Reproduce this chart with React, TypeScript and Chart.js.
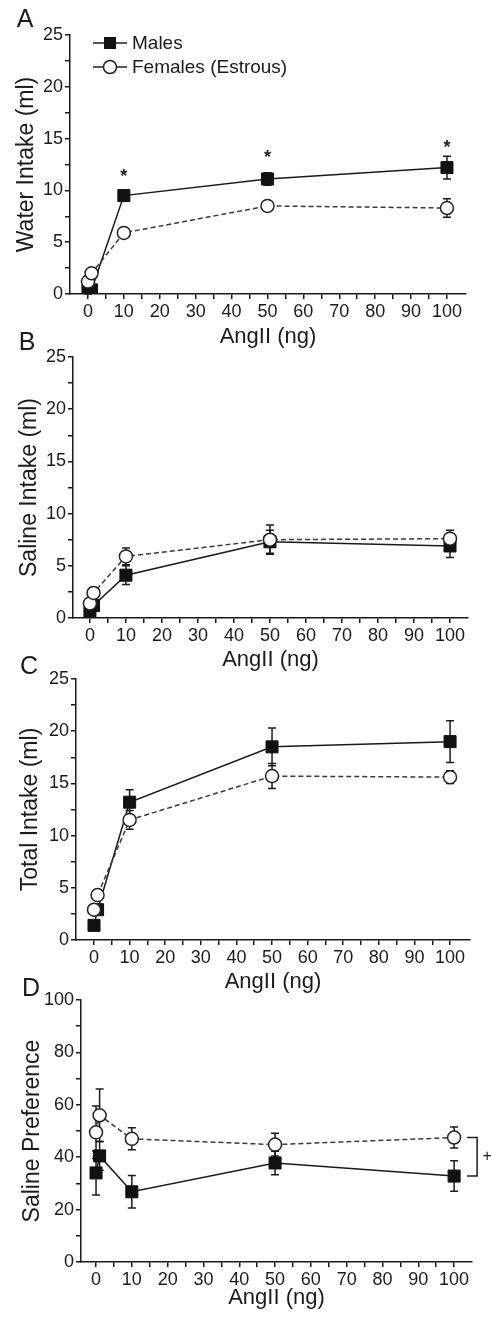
import React, { useEffect, useRef } from 'react';
import { Chart, registerables } from 'chart.js';

Chart.register(...registerables);

// ---------- data ----------
const doses = [0, 1, 10, 50, 100];
const xTickValues = [0, 5, 10, 15, 20, 25, 30, 35, 40, 45, 50, 55, 60, 65, 70, 75, 80, 85, 90, 95, 100];

const waterMales = [0.3, 0.4, 9.5, 11.1, 12.2];
const waterMalesErr = [0.3, 0.3, 0.5, 0.6, 1.1];
const waterFemales = [1.2, 2.0, 5.9, 8.5, 8.3];
const waterFemalesErr = [0.3, 0.4, 0.3, 0.5, 0.9];
const waterStarDoses = [10, 50, 100];
const waterStarLevels = [11.8, 13.6, 14.6];

const salineMales = [0.5, 1.2, 4.1, 7.3, 6.9];
const salineMalesErr = [0.3, 0.3, 0.9, 1.1, 1.1];
const salineFemales = [1.4, 2.4, 5.9, 7.5, 7.6];
const salineFemalesErr = [0.3, 0.4, 0.8, 1.4, 0.8];

const totalMales = [1.4, 2.9, 13.2, 18.5, 19.0];
const totalMalesErr = [0.3, 0.5, 1.2, 1.8, 2.0];
const totalFemales = [2.9, 4.3, 11.5, 15.7, 15.6];
const totalFemalesErr = [0.3, 0.5, 0.9, 1.2, 0.6];

const prefMales = [34.0, 40.5, 26.8, 37.8, 32.8];
const prefMalesErr = [8.4, 5.5, 6.2, 4.5, 5.8];
const prefFemales = [49.5, 56.0, 47.0, 44.8, 47.5];
const prefFemalesErr = [10.0, 10.0, 4.2, 4.3, 4.0];

const legendLabels = ['Males', 'Females (Estrous)'];
const xTitle = 'AngII (ng)';

// ---------- styles ----------
const FONT = '"Liberation Sans", Arial, sans-serif';
const INK = '#1b1b1b';
const W = 491;

type PanelCfg = {
  letter: string;
  letterPos: [number, number];
  yTitle: string;
  yTitleCenter: number;
  yMax: number;
  yStep: number;
  yLabelEvery: number;
  males: number[];
  malesErr: number[];
  females: number[];
  femalesErr: number[];
  plotLeft: number;
  plotRight: number;
  plotTop: number;
  plotBottom: number;
  xMin: number;
  xMax: number;
  xTitleOffset: number;
  legend?: boolean;
  stars?: boolean;
  bracket?: boolean;
};

const panels: PanelCfg[] = [
  {
    letter: 'A', letterPos: [25, 19], yTitle: 'Water Intake (ml)', yTitleCenter: 27,
    yMax: 25, yStep: 2.5, yLabelEvery: 5,
    males: waterMales, malesErr: waterMalesErr, females: waterFemales, femalesErr: waterFemalesErr,
    plotLeft: 70, plotRight: 466, plotTop: 35, plotBottom: 294, xMin: -5.0, xMax: 105.3, xTitleOffset: 43,
    legend: true, stars: true,
  },
  {
    letter: 'B', letterPos: [27, 342], yTitle: 'Saline Intake (ml)', yTitleCenter: 30,
    yMax: 25, yStep: 2.5, yLabelEvery: 5,
    males: salineMales, malesErr: salineMalesErr, females: salineFemales, femalesErr: salineFemalesErr,
    plotLeft: 73, plotRight: 468, plotTop: 357, plotBottom: 618, xMin: -4.7, xMax: 105, xTitleOffset: 42,
  },
  {
    letter: 'C', letterPos: [29, 666], yTitle: 'Total Intake (ml)', yTitleCenter: 31,
    yMax: 25, yStep: 2.5, yLabelEvery: 5,
    males: totalMales, malesErr: totalMalesErr, females: totalFemales, femalesErr: totalFemalesErr,
    plotLeft: 76, plotRight: 470, plotTop: 679, plotBottom: 940, xMin: -5.06, xMax: 105.6, xTitleOffset: 42,
  },
  {
    letter: 'D', letterPos: [31, 988], yTitle: 'Saline Preference', yTitleCenter: 33,
    yMax: 100, yStep: 10, yLabelEvery: 20,
    males: prefMales, malesErr: prefMalesErr, females: prefFemales, femalesErr: prefFemalesErr,
    plotLeft: 81, plotRight: 472, plotTop: 1000, plotBottom: 1262, xMin: -4.2, xMax: 105, xTitleOffset: 36,
    bracket: true,
  },
];

const X_AXIS_H = 60;
const TITLE_FONT = 23;
const X_TITLE_FONT = 22;

const errorBarPlugin = {
  id: 'errbars',
  beforeDatasetsDraw(chart: any) {
    const ctx = chart.ctx;
    const xs = chart.scales.x;
    const ys = chart.scales.y;
    chart.data.datasets.forEach((ds: any) => {
      const err: number[] = ds.errors;
      if (!err) return;
      ctx.save();
      ctx.strokeStyle = INK;
      ctx.lineWidth = 1.5;
      ctx.setLineDash([]);
      ds.data.forEach((p: any, i: number) => {
        const e = err[i];
        if (!e) return;
        const x = xs.getPixelForValue(p.x);
        const y1 = ys.getPixelForValue(p.y + e);
        const y2 = ys.getPixelForValue(p.y - e);
        ctx.beginPath();
        ctx.moveTo(x, y1);
        ctx.lineTo(x, y2);
        ctx.moveTo(x - 4, y1);
        ctx.lineTo(x + 4, y1);
        ctx.moveTo(x - 4, y2);
        ctx.lineTo(x + 4, y2);
        ctx.stroke();
      });
      ctx.restore();
    });
  },
};

function drawSquare(ctx: CanvasRenderingContext2D, x: number, y: number, s: number) {
  ctx.fillStyle = '#111';
  ctx.fillRect(x - s / 2, y - s / 2, s, s);
}

function drawCircle(ctx: CanvasRenderingContext2D, x: number, y: number, r: number) {
  ctx.beginPath();
  ctx.arc(x, y, r, 0, Math.PI * 2);
  ctx.fillStyle = '#fff';
  ctx.fill();
  ctx.lineWidth = 1.5;
  ctx.strokeStyle = '#222';
  ctx.stroke();
}

function makeAnnotPlugin(cfg: PanelCfg, T: number) {
  return {
    id: 'annot' + cfg.letter,
    afterDraw(chart: any) {
      const ctx: CanvasRenderingContext2D = chart.ctx;
      const xs = chart.scales.x;
      const ys = chart.scales.y;
      ctx.save();
      // panel letter
      ctx.fillStyle = INK;
      ctx.font = `25px ${FONT}`;
      ctx.textAlign = 'center';
      ctx.textBaseline = 'middle';
      ctx.fillText(cfg.letter, cfg.letterPos[0], cfg.letterPos[1] - T + 1);

      if (cfg.legend) {
        const rows = [43, 67];
        ctx.font = `19px ${FONT}`;
        ctx.textAlign = 'left';
        ctx.textBaseline = 'middle';
        rows.forEach((ry, i) => {
          const y = ry - T;
          ctx.strokeStyle = '#222';
          ctx.lineWidth = 1.5;
          ctx.setLineDash([]);
          ctx.beginPath();
          ctx.moveTo(93, y);
          ctx.lineTo(127, y);
          ctx.stroke();
          if (i === 0) drawSquare(ctx, 110, y, 12);
          else drawCircle(ctx, 110, y, 6.5);
          ctx.fillStyle = INK;
          ctx.fillText(legendLabels[i], 132, y + 1);
        });
      }

      if (cfg.stars) {
        ctx.font = `bold 18px ${FONT}`;
        ctx.textAlign = 'center';
        ctx.textBaseline = 'alphabetic';
        ctx.fillStyle = '#223';
        waterStarDoses.forEach((d, i) => {
          const x = xs.getPixelForValue(d);
          const y = ys.getPixelForValue(waterStarLevels[i]);
          ctx.fillText('*', x, y + 10);
        });
      }

      if (cfg.bracket) {
        const last = doses.length - 1;
        const x0 = xs.getPixelForValue(doses[last]);
        const yTop = ys.getPixelForValue(cfg.females[last]);
        const yBot = ys.getPixelForValue(cfg.males[last]);
        ctx.strokeStyle = INK;
        ctx.lineWidth = 1.5;
        ctx.beginPath();
        ctx.moveTo(x0 + 13, yTop);
        ctx.lineTo(x0 + 23, yTop);
        ctx.lineTo(x0 + 23, yBot);
        ctx.lineTo(x0 + 13, yBot);
        ctx.stroke();
        ctx.font = `16px ${FONT}`;
        ctx.textAlign = 'center';
        ctx.textBaseline = 'middle';
        ctx.fillStyle = INK;
        ctx.fillText('+', x0 + 33, (yTop + yBot) / 2);
      }
      ctx.restore();
    },
  };
}

function Panel({ cfg }: { cfg: PanelCfg }) {
  const ref = useRef<HTMLCanvasElement>(null);
  const T = cfg.plotTop - 32;
  const H = cfg.plotBottom + X_AXIS_H - T;

  useEffect(() => {
    const canvas = ref.current;
    if (!canvas) return;
    const yLine = (X_TITLE_FONT * 1.2) / 2;
    const chart = new Chart(canvas, {
      type: 'line',
      data: {
        datasets: [
          {
            label: legendLabels[1],
            data: doses.map((d, i) => ({ x: d, y: cfg.females[i] })),
            errors: cfg.femalesErr,
            borderColor: '#3a3a3a',
            borderWidth: 1.5,
            borderDash: [5, 3],
            pointStyle: 'circle',
            pointRadius: 6.5,
            pointBorderWidth: 1.5,
            pointBackgroundColor: '#fff',
            pointBorderColor: '#222',
            tension: 0,
            fill: false,
          } as any,
          {
            label: legendLabels[0],
            data: doses.map((d, i) => ({ x: d, y: cfg.males[i] })),
            errors: cfg.malesErr,
            borderColor: '#1a1a1a',
            borderWidth: 1.5,
            pointStyle: 'rect',
            pointRadius: 8.5,
            pointBorderWidth: 1,
            pointBackgroundColor: '#111',
            pointBorderColor: '#111',
            tension: 0,
            fill: false,
          } as any,
        ],
      },
      options: {
        responsive: false,
        animation: false,
        devicePixelRatio: 1,
        events: [],
        layout: {
          padding: { top: cfg.plotTop - T, right: W - cfg.plotRight, left: 0, bottom: 0 },
        },
        plugins: {
          legend: { display: false },
          tooltip: { enabled: false },
        },
        scales: {
          x: {
            type: 'linear',
            min: cfg.xMin,
            max: cfg.xMax,
            afterFit: (s: any) => { s.height = X_AXIS_H; },
            afterBuildTicks: (s: any) => { s.ticks = xTickValues.map((v) => ({ value: v })); },
            ticks: {
              autoSkip: false,
              maxRotation: 0,
              padding: 2,
              color: INK,
              font: { family: FONT, size: 18 },
              callback: (v: any) => (Number(v) % 10 === 0 ? String(v) : ''),
            },
            grid: { drawOnChartArea: false, drawTicks: true, tickLength: 5, color: INK, lineWidth: 1.5 },
            border: { display: true, color: INK, width: 1.5 },
            title: {
              display: true,
              text: xTitle,
              color: INK,
              font: { family: FONT, size: X_TITLE_FONT },
              padding: { top: 0, bottom: X_AXIS_H - yLine - cfg.xTitleOffset },
            },
          },
          y: {
            type: 'linear',
            min: 0,
            max: cfg.yMax,
            afterFit: (s: any) => { s.width = cfg.plotLeft; },
            ticks: {
              stepSize: cfg.yStep,
              padding: 2,
              color: INK,
              font: { family: FONT, size: 18 },
              callback: (v: any) => (Math.abs(Number(v) % cfg.yLabelEvery) < 1e-9 ? String(v) : ''),
            },
            grid: { drawOnChartArea: false, drawTicks: true, tickLength: 5, color: INK, lineWidth: 1.5 },
            border: { display: true, color: INK, width: 1.5 },
            title: {
              display: true,
              text: cfg.yTitle,
              color: INK,
              font: { family: FONT, size: TITLE_FONT },
              padding: { top: cfg.yTitleCenter - (TITLE_FONT * 1.2) / 2, bottom: 0 },
            },
          },
        },
      },
      plugins: [errorBarPlugin, makeAnnotPlugin(cfg, T)],
    } as any);
    return () => chart.destroy();
  }, []);

  return (
    <canvas
      ref={ref}
      width={W}
      height={H}
      style={{ position: 'absolute', left: 0, top: T, width: W, height: H, display: 'block' }}
    />
  );
}

export default function App() {
  return (
    <div style={{ position: 'absolute', left: 0, top: 0, width: W, height: 1317, background: '#fff', overflow: 'hidden' }}>
      {panels.map((p) => (
        <Panel key={p.letter} cfg={p} />
      ))}
    </div>
  );
}
